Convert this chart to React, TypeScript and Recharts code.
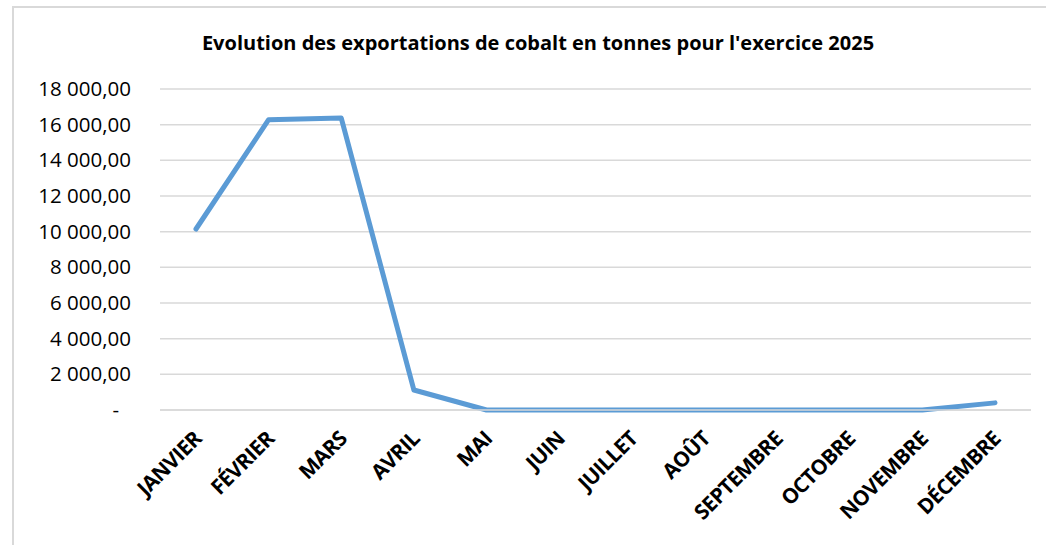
// Evolution des exportations de cobalt (tonnes) – exercice 2025
// Courbe simple, style Excel

import { LineChart, Line, XAxis, YAxis, CartesianGrid } from 'recharts';

const months = [
  'JANVIER', 'FÉVRIER', 'MARS', 'AVRIL', 'MAI', 'JUIN',
  'JUILLET', 'AOÛT', 'SEPTEMBRE', 'OCTOBRE', 'NOVEMBRE', 'DÉCEMBRE',
];
const tonnes = [10150, 16280, 16370, 1120, 0, 0, 0, 0, 0, 0, 0, 400];
const yTicks = [0, 2000, 4000, 6000, 8000, 10000, 12000, 14000, 16000, 18000];

const data = months.map((m, i) => ({ month: m, value: tonnes[i] }));

const FONT = '"Open Sans", "Noto Sans", sans-serif';

function fmt(v: number) {
  if (v === 0) return '-';
  const s = v.toFixed(2).replace('.', ',');
  const [int, dec] = s.split(',');
  return int.replace(/\B(?=(\d{3})+(?!\d))/g, ' ') + ',' + dec;
}

function YTick(props: any) {
  const { x, y, payload } = props;
  const txt = fmt(payload.value);
  return (
    <text x={txt === '-' ? x - 12 : x} y={y} dy={7} textAnchor="end"
      fill="#000" fontSize={20.5} fontFamily={FONT}>
      {txt}
    </text>
  );
}

function XTick(props: any) {
  const { x, y, payload } = props;
  return (
    <g transform={`translate(${x + 7},${y + 22})`}>
      <text textAnchor="end" transform="rotate(-45)" fill="#000"
        fontSize={21} fontWeight={700} fontFamily={FONT} letterSpacing={-0.6}>
        {payload.value}
      </text>
    </g>
  );
}

export default function App() {
  return (
    <div style={{ position: 'fixed', left: 0, top: 0, width: 1046, height: 545, overflow: 'hidden', background: '#fff' }}>
      <div style={{ position: 'absolute', left: 12, top: 6, width: 1100, height: 600, borderTop: '2px solid #d9d9d9', borderLeft: '2px solid #d9d9d9' }} />
      <div style={{ position: 'absolute', left: 0, width: 1076, top: 29, textAlign: 'center', fontFamily: FONT, fontWeight: 700, fontSize: 20, color: '#000' }}>
        Evolution des exportations de cobalt en tonnes pour l'exercice 2025
      </div>
      <div style={{ position: 'absolute', left: 0, top: 0 }}>
        <LineChart width={1046} height={545} data={data}
          margin={{ top: 89, right: 15, bottom: 0, left: 0 }}>
          <CartesianGrid vertical={false} stroke="#d9d9d9" strokeWidth={1.5} />
          <XAxis dataKey="month" interval={0} height={135} padding={{ left: 36, right: 36 }}
            axisLine={{ stroke: '#d9d9d9', strokeWidth: 1.5 }} tickLine={false} tick={<XTick />} />
          <YAxis width={160} domain={[0, 18000]} ticks={yTicks} axisLine={false} tickLine={false}
            tickSize={0} tickMargin={29} tick={<YTick />} />
          <Line type="linear" dataKey="value" stroke="#5b9bd5" strokeWidth={5}
            strokeLinecap="round" strokeLinejoin="round" dot={false} isAnimationActive={false} />
        </LineChart>
      </div>
    </div>
  );
}
